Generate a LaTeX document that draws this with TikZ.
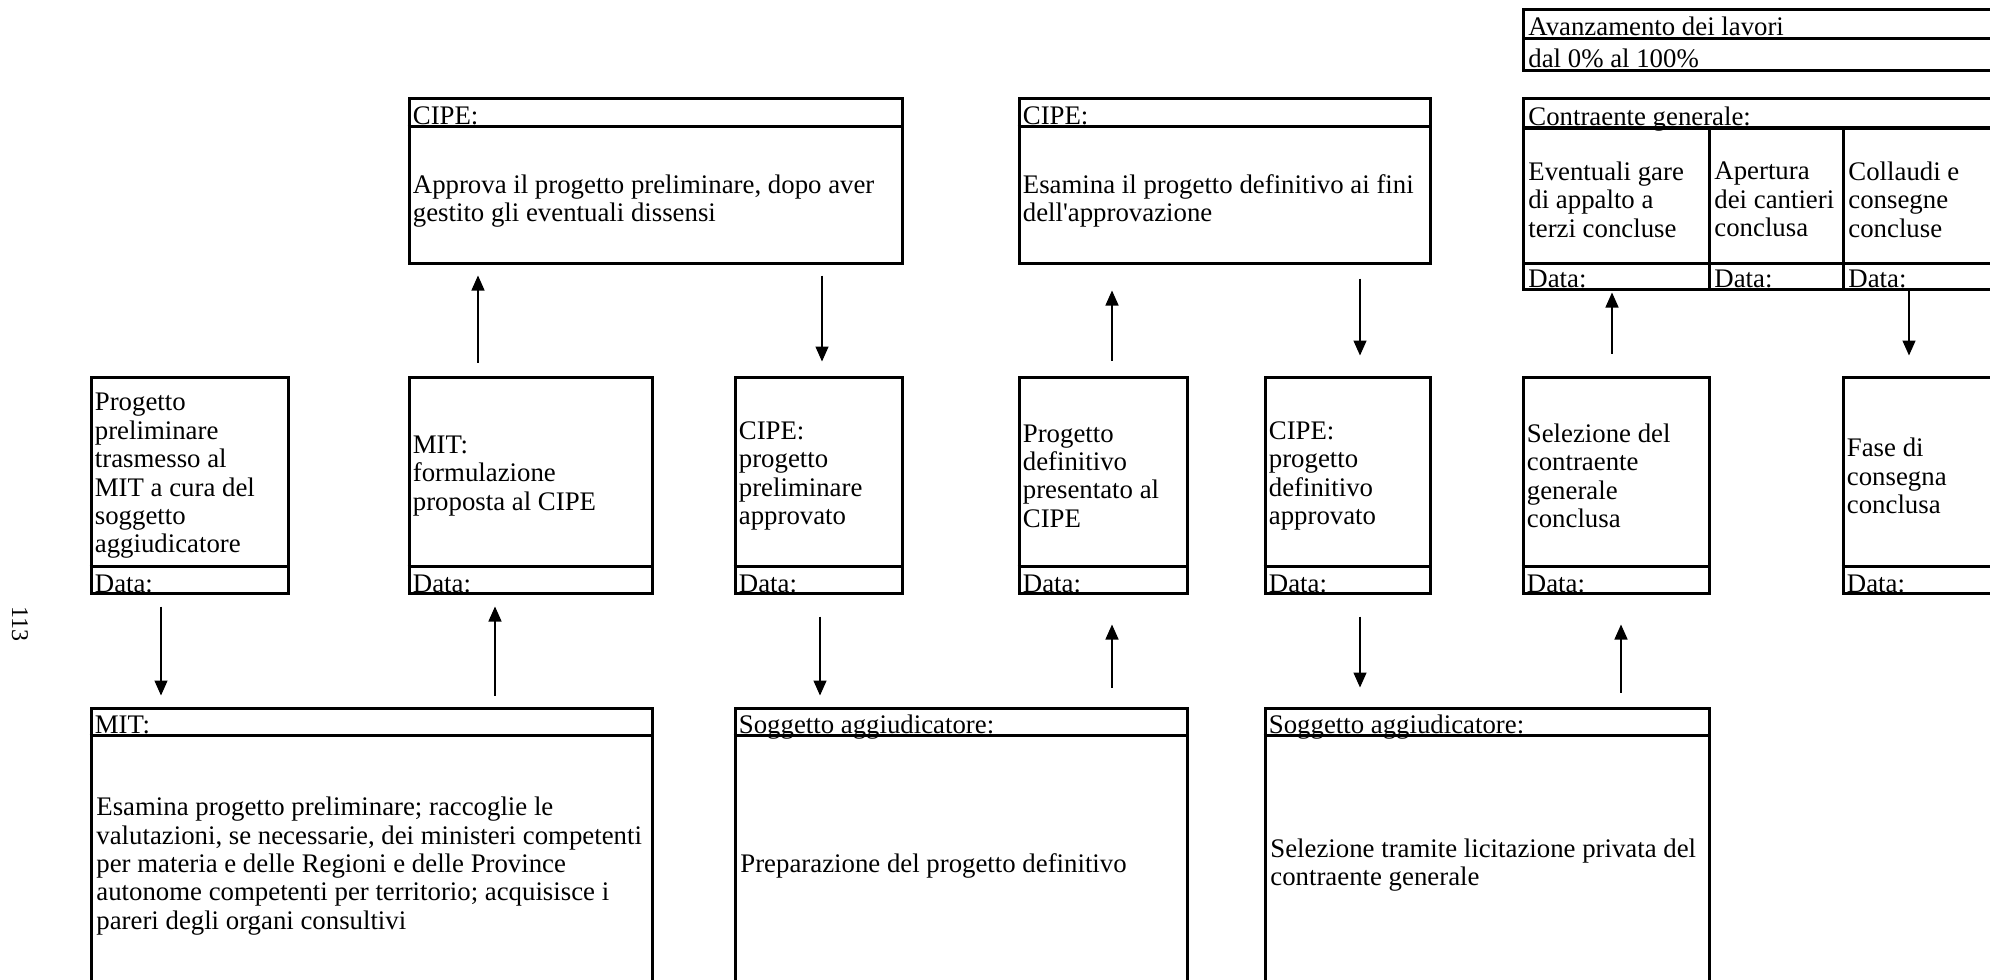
\documentclass[tikz,border=0pt]{standalone}
\usepackage{fontspec}
\setmainfont{Liberation Serif}
\usetikzlibrary{arrows.meta}
\usetikzlibrary{fit}
\usetikzlibrary{calc}

\tikzset{
  box/.style={draw, line width=1.5pt, inner sep=0pt},
  rule/.style={line width=1.5pt},
  txt/.style={inner xsep=2.5pt, inner ysep=0pt, align=left, font=\fontsize{13.4}{14.2}\selectfont},
  arr/.style={-{Triangle[length=7.5pt,width=6.5pt]}, line width=0.7pt},
}

\begin{document}
\begin{tikzpicture}[x=0.5pt,y=-0.5pt]
  \clip (0,0) rectangle (1990,979);

  % middle row of stages
  \foreach \n/\xa/\xb in {b1/91/288,b2/409/652,b3/735/902,b4/1019/1187,b5/1265/1430,b6/1523/1709,b7/1843/2010}{%
    \node[box, fit={(\xa,377) (\xb,593)}] (\n) {};
    \draw[rule] ([yshift=14pt]\n.south west) -- ([yshift=14pt]\n.south east);
    \node[txt, anchor=base west] (\n-d) at ([yshift=1pt]\n.south west) {Data:};
  }
  \node[txt, anchor=west] (b1-t) at ([yshift=4.5pt]b1.west) {Progetto\\preliminare\\trasmesso al\\MIT a cura del\\soggetto\\aggiudicatore};
  \node[txt, anchor=west] (b2-t) at ([yshift=4.5pt]b2.west) {MIT:\\formulazione\\proposta al CIPE};
  \node[txt, anchor=west] (b3-t) at ([yshift=4.5pt]b3.west) {CIPE:\\progetto\\preliminare\\approvato};
  \node[txt, anchor=west] (b4-t) at ([yshift=4.5pt]b4.west) {Progetto\\definitivo\\presentato al\\CIPE};
  \node[txt, anchor=west] (b5-t) at ([yshift=4.5pt]b5.west) {CIPE:\\progetto\\definitivo\\approvato};
  \node[txt, anchor=west] (b6-t) at ([yshift=4.5pt]b6.west) {Selezione del\\contraente\\generale\\conclusa};
  \node[txt, anchor=west] (b7-t) at ([yshift=4.5pt]b7.west) {Fase di\\consegna\\conclusa};

  % upper row
  \foreach \n/\xa/\xb in {c1/409/902,c2/1019/1430}{%
    \node[box, fit={(\xa,99) (\xb,263)}] (\n) {};
    \draw[rule] ([yshift=-14.5pt]\n.north west) -- ([yshift=-14.5pt]\n.north east);
    \node[txt, anchor=base west] (\n-h) at ([yshift=-13.5pt]\n.north west) {CIPE:};
  }
  \node[txt, anchor=west] (c1-t) at ([yshift=-10pt]c1.west) {Approva il progetto preliminare, dopo aver\\gestito gli eventuali dissensi};
  \node[txt, anchor=west] (c2-t) at ([yshift=-10pt]c2.west) {Esamina il progetto definitivo ai fini\\dell\textquotesingle approvazione};

  \node[box, fit={(1523,10) (2010,71)}] (av) {};
  \draw[rule] (1523,39) -- (2010,39);
  \node[txt, anchor=base west] (av-1) at (1523,36) {Avanzamento dei lavori};
  \node[txt, anchor=base west] (av-2) at (1523,68) {dal 0\% al 100\%};

  \node[box, fit={(1523,99) (2010,289)}] (con) {};
  \draw[rule] (1523,128) -- (2010,128);
  \draw[rule] (1523,263) -- (2010,263);
  \draw[rule] (1709,128) -- (1709,289);
  \draw[rule] (1843,128) -- (1843,289);
  \node[txt, anchor=base west] (con-h) at (1523,126) {Contraente generale:};
  \node[txt, anchor=west] (con-1) at (1523,199.5) {Eventuali gare\\di appalto a\\terzi concluse};
  \node[txt, anchor=west] (con-2) at (1709,199.5) {Apertura\\dei cantieri\\conclusa};
  \node[txt, anchor=west] (con-3) at (1843,199.5) {Collaudi e\\consegne\\concluse};
  \foreach \xa [count=\i] in {1523,1709,1843}{%
    \node[txt, anchor=base west] (con-d\i) at (\xa,287) {Data:};
  }

  % lower row
  \foreach \n/\xa/\xb/\h in {mit/91/652/MIT:,s1/735/1187/Soggetto aggiudicatore:,s2/1265/1709/Soggetto aggiudicatore:}{%
    \node[box, fit={(\xa,708) (\xb,990)}] (\n) {};
    \draw[rule] ([yshift=-14.5pt]\n.north west) -- ([yshift=-14.5pt]\n.north east);
    \node[txt, anchor=base west] (\n-h) at ([yshift=-13.5pt]\n.north west) {\h};
  }
  \node[txt, anchor=west] (mit-t) at (91,866) {Esamina progetto preliminare; raccoglie le\\valutazioni, se necessarie, dei ministeri competenti\\per materia e delle Regioni e delle Province\\autonome competenti per territorio; acquisisce i\\pareri degli organi consultivi};
  \node[txt, anchor=west] (s1-t) at (735,866) {Preparazione del progetto definitivo};
  \node[txt, anchor=west] (s2-t) at (1265,865) {Selezione tramite licitazione privata del\\contraente generale};

  \node[txt, rotate=-90, font=\fontsize{12}{14}\selectfont] (pg) at (20,624) {113};

  % arrows
  \draw[arr, shorten <=6pt, shorten >=5.5pt] (161,0 |- b1.south) -- (161,0 |- mit.north);
  \draw[arr, shorten <=5.5pt, shorten >=6pt] (495,0 |- mit.north) -- (495,0 |- b2.south);
  \draw[arr, shorten <=6.5pt, shorten >=5.5pt] (478,0 |- b2.north) -- (478,0 |- c1.south);
  \draw[arr, shorten <=5.5pt, shorten >=7pt] (822,0 |- c1.south) -- (822,0 |- b3.north);
  \draw[arr, shorten <=11pt, shorten >=5.5pt] (820,0 |- b3.south) -- (820,0 |- s1.north);
  \draw[arr, shorten <=9.5pt, shorten >=15pt] (1112,0 |- s1.north) -- (1112,0 |- b4.south);
  \draw[arr, shorten <=7.5pt, shorten >=13pt] (1112,0 |- b4.north) -- (1112,0 |- c2.south);
  \draw[arr, shorten <=7pt, shorten >=10pt] (1360,0 |- c2.south) -- (1360,0 |- b5.north);
  \draw[arr, shorten <=11pt, shorten >=9.5pt] (1360,0 |- b5.south) -- (1360,0 |- s2.north);
  \draw[arr, shorten <=7pt, shorten >=15pt] (1621,0 |- s2.north) -- (1621,0 |- b6.south);
  \draw[arr, shorten <=11pt, shorten >=1pt] (1612,0 |- b6.north) -- (1612,0 |- con.south);
  \draw[arr, shorten >=10pt] (1909,0 |- con.south) -- (1909,0 |- b7.north);
\end{tikzpicture}
\end{document}
